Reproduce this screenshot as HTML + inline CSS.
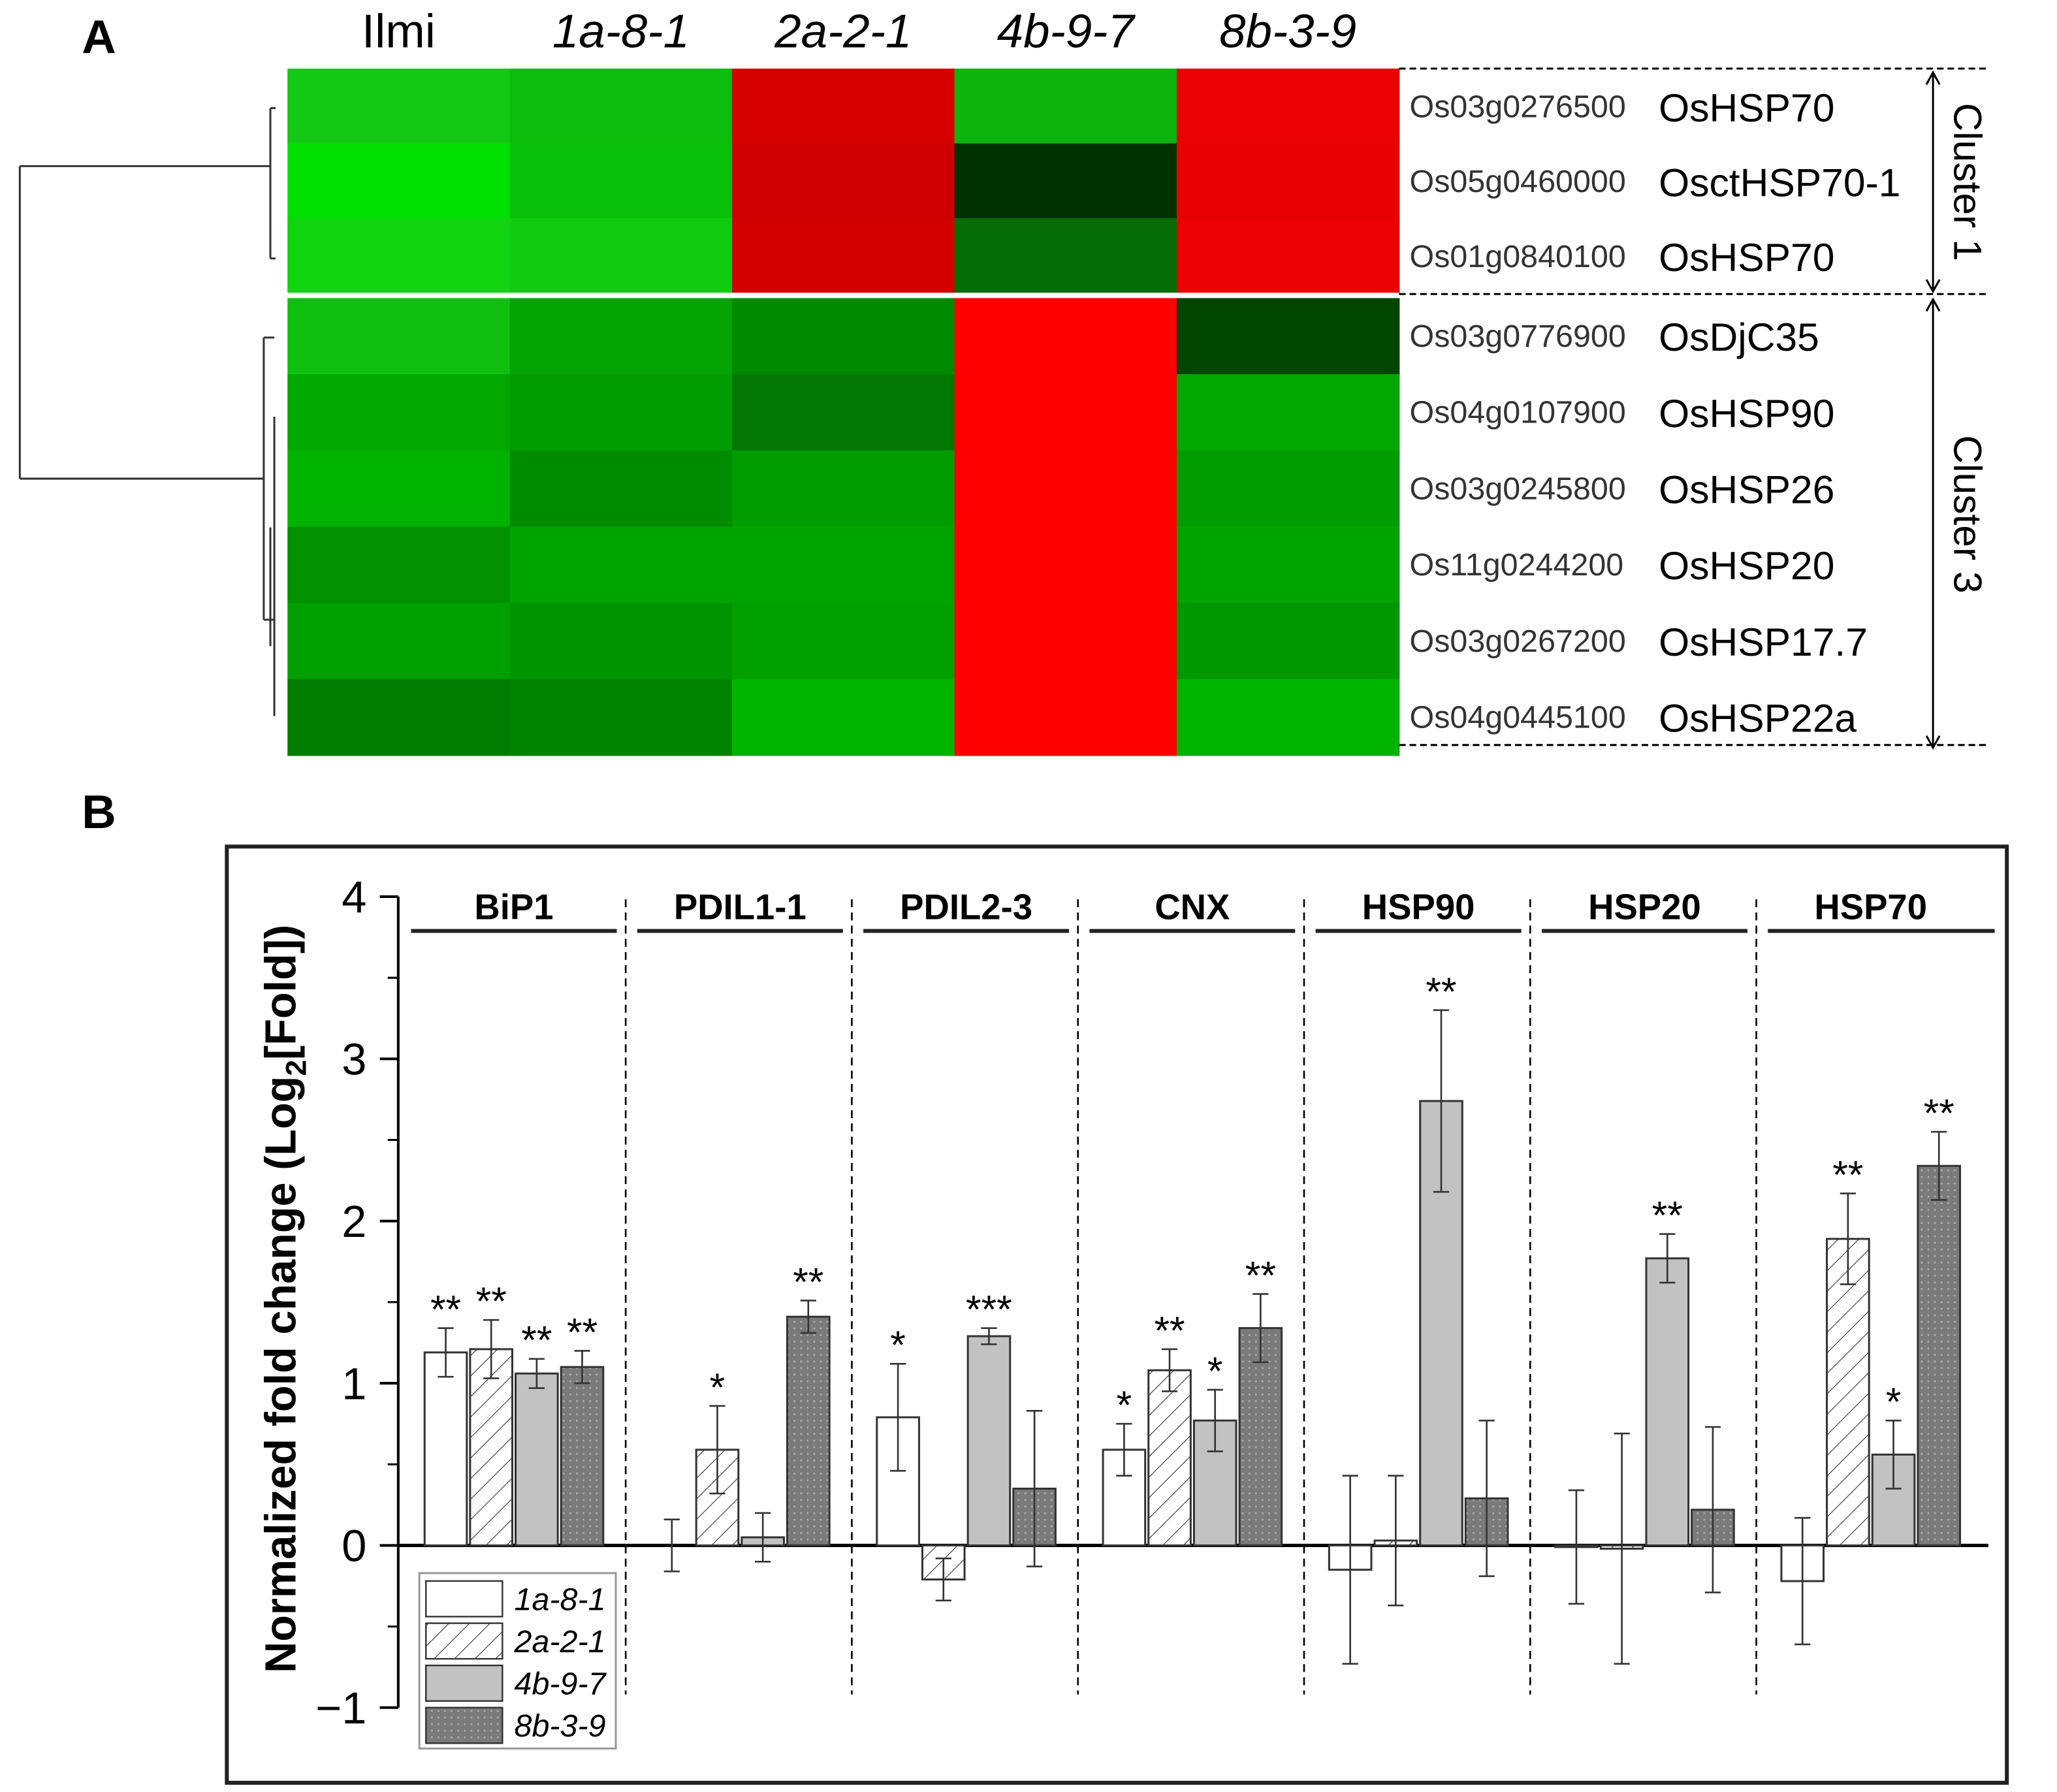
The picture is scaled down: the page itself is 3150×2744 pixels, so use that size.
<!DOCTYPE html>
<html><head><meta charset="utf-8"><style>
html,body{margin:0;padding:0;background:#fff}
svg{display:block;font-family:"Liberation Sans",Arial,sans-serif}
</style></head><body>
<svg id="fig" width="3150" height="2744" viewBox="0 0 1560 1359" xmlns="http://www.w3.org/2000/svg">
<defs>
<pattern id="hatch" patternUnits="userSpaceOnUse" width="11" height="11" patternTransform="rotate(45)"><rect width="11" height="11" fill="#fff"/><line x1="0" y1="0" x2="0" y2="11" stroke="#333" stroke-width="1.1"/></pattern>
<pattern id="dots" patternUnits="userSpaceOnUse" width="5" height="5"><rect width="5" height="5" fill="#7a7a7a"/><circle cx="2.5" cy="2.5" r="0.8" fill="#aaa"/></pattern>
</defs>
<text x="62" y="40" font-size="36" font-weight="bold">A</text>
<text x="62" y="628" font-size="36" font-weight="bold">B</text>
<g id="heat"></g>
<g id="dendro" stroke="#333" stroke-width="1.5" fill="none">
<path d="M15 126 H205 M15 363 H200 M15 126 V363 M205 82 V196 M205 82 h4 M205 196 h4 M200 256 V470 M200 256 h8 M200 470 h8 M208 316 V543 M205 400 V490"/>
</g>
<g id="bars"></g>
</svg>
<script>
const ns="http://www.w3.org/2000/svg";
function mk(tag,attrs,parent,text){const e=document.createElementNS(ns,tag);for(const k in attrs)e.setAttribute(k,attrs[k]);if(text!==undefined)e.textContent=text;parent.appendChild(e);return e;}
const heatCols=["Ilmi","1a-8-1","2a-2-1","4b-9-7","8b-3-9"];
const geneIds=["Os03g0276500","Os05g0460000","Os01g0840100","Os03g0776900","Os04g0107900","Os03g0245800","Os11g0244200","Os03g0267200","Os04g0445100"];
const geneNames=["OsHSP70","OsctHSP70-1","OsHSP70","OsDjC35","OsHSP90","OsHSP26","OsHSP20","OsHSP17.7","OsHSP22a"];
const heatColors=[
["#14c814","#0cbc0c","#d60000","#0cb40c","#ea0000"],
["#00e000","#08c008","#d00000","#003200","#e60000"],
["#10d410","#10cc10","#d40000","#086c08","#ea0000"],
["#10c010","#04a404","#008a00","#ff0000","#004600"],
["#00a800","#009c00","#007800","#ff0000","#00a800"],
["#00b200","#008c00","#009c00","#ff0000","#009c00"],
["#009000","#00a400","#00a400","#ff0000","#00a400"],
["#00a000","#009400","#00a000","#ff0000","#009800"],
["#007c00","#008400","#00b400","#ff0000","#00b400"]];
const H=document.getElementById('heat');
const hx0=218,cw=168.6,rh=57.3;
function rowY(i){return i<3?52+i*rh*0.99:226+(i-3)*57.8;}
for(let i=0;i<geneIds.length;i++){
 const y=rowY(i),h=i<3?56.8:57.8;
 for(let j=0;j<heatCols.length;j++){
  const c=mk('rect',{x:hx0+j*cw,y:y,width:cw+0.5,height:h+0.5,fill:heatColors[i][j]},H);
  
  
 }
 const t1=mk('text',{x:1069,y:y+37,'font-size':24,fill:'#333'},H,geneIds[i]);
 
 
 const t2=mk('text',{x:1258,y:y+40,'font-size':30},H,geneNames[i]);
 
 
}
for(let j=0;j<heatCols.length;j++){
 const t=mk('text',{x:hx0+j*cw+cw/2,y:36,'font-size':36,'text-anchor':'middle','font-style':j==0?'normal':'italic'},H,heatCols[j]);
 
 
}
mk('line',{x1:218,x2:1061,y1:224,y2:224,stroke:'#fff','stroke-width':4},H);
[52,223,565].forEach(y=>{const l=mk('line',{x1:1061,x2:1508,y1:y,y2:y,stroke:'#000','stroke-width':1.5,'stroke-dasharray':'5,3'},H);
 
 });
mk('path',{d:'M1466 56 V220 M1461 64 L1466 55 L1471 64 M1461 212 L1466 221 L1471 212 M1466 228 V566 M1461 236 L1466 227 L1471 236 M1461 558 L1466 567 L1471 558',stroke:'#000','stroke-width':1.5,fill:'none'},H);
[["Cluster 1",138],["Cluster 3",390]].forEach(([s,y])=>{const t=mk('text',{x:1482,y:y,'font-size':30,'text-anchor':'middle',transform:`rotate(90 1482 ${y})`},H,s);
 
 });
const groups=["BiP1","PDIL1-1","PDIL2-3","CNX","HSP90","HSP20","HSP70"];
const seriesNames=["1a-8-1","2a-2-1","4b-9-7","8b-3-9"];
const v1a=[1.19,0.00,0.79,0.59,-0.15,-0.01,-0.22];
const v2a=[1.21,0.59,-0.21,1.08,0.03,-0.02,1.89];
const v4b=[1.06,0.05,1.29,0.77,2.74,1.77,0.56];
const v8b=[1.10,1.41,0.35,1.34,0.29,0.22,2.34];
const e1a=[0.15,0.16,0.33,0.16,0.58,0.35,0.39];
const e2a=[0.18,0.27,0.13,0.13,0.40,0.71,0.28];
const e4b=[0.09,0.15,0.05,0.19,0.56,0.15,0.21];
const e8b=[0.10,0.10,0.48,0.21,0.48,0.51,0.21];
const s1a=["**","","*","*","","",""];
const s2a=["**","*","","**","","","**"];
const s4b=["**","","***","*","**","**","*"];
const s8b=["**","**","","**","","","**"];
const yTicks=[4,3,2,1,0,-1];
const vals=[v1a,v2a,v4b,v8b],errs=[e1a,e2a,e4b,e8b],stars=[s1a,s2a,s4b,s8b];
const fills=["#fff","url(#hatch)","#c2c2c2","url(#dots)"];
const B=document.getElementById('bars');
const y0=1172,ppu=123;
const Y=v=>y0-v*ppu;
const X=(g,s)=>338+g*171.5+s*34.5;
const bw=32;
const frame=mk('rect',{x:172,y:642,width:1350,height:710,fill:'none',stroke:'#222','stroke-width':3},B);


const yax=mk('line',{x1:302,x2:302,y1:Y(4),y2:Y(-1),stroke:'#000','stroke-width':2},B);


yTicks.forEach(v=>{
 mk('line',{x1:288,x2:302,y1:Y(v),y2:Y(v),stroke:'#000','stroke-width':2},B);
 if(v>-1)mk('line',{x1:294,x2:302,y1:Y(v-0.5),y2:Y(v-0.5),stroke:'#000','stroke-width':1.5},B);
 const t=mk('text',{x:278,y:Y(v)+12,'font-size':34,'text-anchor':'end'},B,v<0?'\u2212'+(-v):String(v));
 
 
});
const yt=mk('text',{x:224,y:985,'font-size':33,'font-weight':'bold','text-anchor':'middle',transform:'rotate(-90 224 985)'},B);


yt.innerHTML='Normalized fold change (Log<tspan font-size="22" dy="8">2</tspan><tspan dy="-8">[Fold])</tspan>';
groups.forEach((g,gi)=>{
 const cx=X(gi,1.5);
 const t=mk('text',{x:cx,y:697,'font-size':27,'font-weight':'bold','text-anchor':'middle'},B,g);
 
 
 const ul=mk('line',{x1:cx-78,x2:cx+(gi==6?94:78),y1:706,y2:706,stroke:'#222','stroke-width':3},B);
 
 
 if(gi>0){const d=mk('line',{x1:X(gi,0)-35,x2:X(gi,0)-35,y1:682,y2:1285,stroke:'#000','stroke-width':1.3,'stroke-dasharray':'6,4'},B);
  
  }
});
const zl=mk('line',{x1:302,x2:1508,y1:y0,y2:y0,stroke:'#000','stroke-width':2.5},B);


groups.forEach((g,gi)=>{
 for(let s=0;s<4;s++){
  const v=vals[s][gi],e=errs[s][gi],x=X(gi,s);
  const top=Math.min(Y(v),y0),h=Math.abs(Y(v)-y0);
  const r=mk('rect',{x:x-bw/2,y:top,width:bw,height:h,fill:fills[s],stroke:'#333','stroke-width':1.5},B);
  
  
  const eb=mk('path',{d:`M${x} ${Y(v+e)} V${Y(v-e)} M${x-6} ${Y(v+e)} h12 M${x-6} ${Y(v-e)} h12`,stroke:'#333','stroke-width':1.3,fill:'none'},B);
  
  
  if(stars[s][gi]){const st=mk('text',{x:x,y:Y(v+e)-4,'font-size':30,'text-anchor':'middle'},B,stars[s][gi]);
   
   }
 }
});
const lg=mk('g',{},B);


mk('rect',{x:318,y:1193,width:149,height:133,fill:'#fff',stroke:'#999','stroke-width':1.5},lg);
seriesNames.forEach((n,i)=>{
 const y=1199+i*32;
 const sw=mk('rect',{x:323,y:y,width:58,height:27,fill:fills[i],stroke:'#333','stroke-width':1.2},lg);
 
 
 const t=mk('text',{x:390,y:y+22,'font-size':24,'font-style':'italic'},lg,n);
 
 
});
</script>
</body></html>
